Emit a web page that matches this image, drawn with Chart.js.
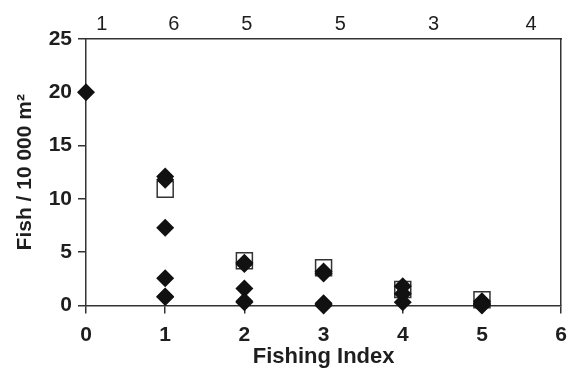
<!DOCTYPE html>
<html>
<head>
<meta charset="utf-8">
<script src="https://cdn.jsdelivr.net/npm/chart.js@4.4.1/dist/chart.umd.min.js"></script>
<style>
  html, body { margin: 0; padding: 0; background: #fff; overflow: hidden; }
  #wrap { width: 576px; height: 370px; }
</style>
</head>
<body>
<div id="wrap"><canvas id="chart-area"></canvas></div>
<script>
	// single samples (filled diamonds)
	var diamondX = [0, 1, 1, 1, 1, 1, 1, 2, 2, 2, 2, 2, 3, 3, 3, 3, 3, 4, 4, 4, 5, 5, 5, 5];
	var diamondY = [20, 12.1, 11.8, 7.3, 2.55, 0.85, 0.8, 4.0, 3.9, 1.6, 0.4, 0.3, 3.2, 3.0, 0.2, 0.1, 0.0, 1.8, 1.1, 0.3, 0.4, 0.2, 0.1, 0.0];
	// open squares
	var squareX = [1, 2, 3, 4, 5];
	var squareY = [10.9, 4.2, 3.55, 1.5, 0.55];
	// sample counts written above the plot
	var topLabels = ['1', '6', '5', '5', '3', '4'];
	var topLabelPos = [0.2, 1.11, 2.03, 3.21, 4.39, 5.62];

	var ink = '#333';
	var txt = '#1e1e1e';
	var bold = { family: 'Liberation Sans', size: 21, weight: 'bold' };

	init();

	function init () {
		scatterChart();
	}

	function toPoints (xs, ys) {
		var pts = [];
		for (var i = 0; i < xs.length; i++) {
			pts.push({ x: xs[i], y: ys[i] });
		}
		return pts;
	}

	function scatterChart () {
		var config = {
			type: 'scatter',
			data: {
				datasets: [{
					data: toPoints(diamondX, diamondY),
					pointStyle: 'rectRot',
					pointRadius: 9,
					backgroundColor: '#111',
					borderColor: '#111',
					borderWidth: 0,
					clip: false
				}, {
					data: toPoints(squareX, squareY),
					pointStyle: 'rect',
					pointRadius: 11.3,
					backgroundColor: '#fff',
					borderColor: ink,
					borderWidth: 1.5,
					clip: false
				}]
			},
			options: {
				responsive: true,
				maintainAspectRatio: false,
				animation: false,
				layout: { padding: 0 },
				plugins: {
					legend: { display: false },
					tooltip: { enabled: false }
				},
				scales: {
					x: {
						type: 'linear',
						position: 'bottom',
						min: 0,
						max: 6,
						ticks: { stepSize: 1, font: bold, color: txt, padding: 9 },
						grid: { drawOnChartArea: false, tickLength: 8, color: ink, lineWidth: 1.5 },
						border: { color: ink, width: 1.5 },
						title: { display: true, text: 'Fishing Index', font: { family: 'Liberation Sans', size: 22, weight: 'bold' }, color: txt, padding: { top: 0, bottom: 0 } },
						afterFit: function (s) { s.height = 64.5; }
					},
					x2: {
						type: 'linear',
						position: 'top',
						min: 0,
						max: 6,
						afterBuildTicks: function (s) {
							s.ticks = topLabelPos.map(function (v) { return { value: v }; });
						},
						ticks: {
							autoSkip: false,
							maxRotation: 0,
							font: { family: 'Liberation Sans', size: 20 },
							color: txt,
							padding: -5,
							callback: function (v, i) { return topLabels[i]; }
						},
						grid: { display: false },
						border: { color: ink, width: 1.5 },
						afterFit: function (s) { s.height = 39; }
					},
					y: {
						position: 'left',
						min: 0,
						max: 25,
						ticks: { stepSize: 5, font: bold, color: txt, padding: 6 },
						grid: { drawOnChartArea: false, tickLength: 8, color: ink, lineWidth: 1.5 },
						border: { color: ink, width: 1.5 },
						title: { display: true, text: 'Fish / 10 000 m\u00B2', font: bold, color: txt, padding: { top: 13, bottom: 0 } },
						afterFit: function (s) { s.width = 86; }
					},
					y2: {
						position: 'right',
						min: 0,
						max: 25,
						ticks: { display: false },
						grid: { display: false },
						border: { color: ink, width: 1.5 },
						afterFit: function (s) { s.width = 10; }
					}
				}
			}
		};

		var ctx = document.getElementById('chart-area').getContext('2d');
		window.myChart = new Chart(ctx, config);
	}
</script>
</body>
</html>
